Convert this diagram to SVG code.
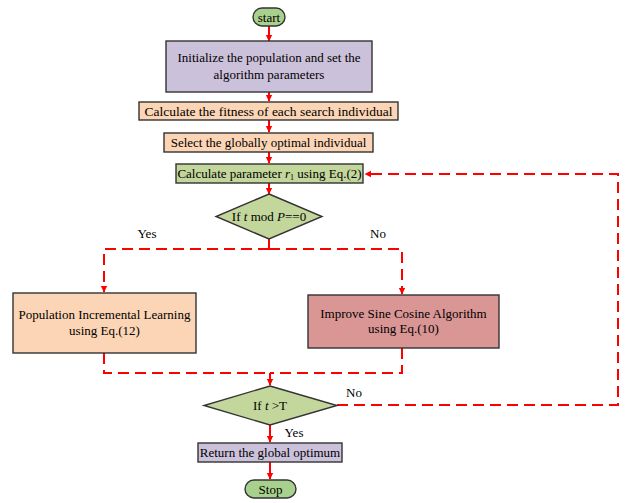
<svg xmlns="http://www.w3.org/2000/svg" width="629" height="503" viewBox="0 0 629 503">
<defs>
<style>
text{font-family:"Liberation Serif","Times New Roman",serif;font-size:13px;fill:#000;text-anchor:middle}
.box{stroke:#333;stroke-width:1.4}
.pur{fill:#ccc1da}.peach{fill:#fbd5b5}.green{fill:#c3d69b}.rose{fill:#d99694}.term{fill:#a9d18e}
.solid{stroke:#ff0000;stroke-width:2;fill:none}
.dash{stroke:#ff0000;stroke-width:2;fill:none;stroke-dasharray:11,6}
</style>
<marker id="ah" markerWidth="8" markerHeight="8" refX="6" refY="4" orient="auto" markerUnits="userSpaceOnUse">
<path d="M0,0.8 L6.5,4 L0,7.2 z" fill="#ff0000"/>
</marker>
</defs>
<rect width="629" height="503" fill="#fff"/>
<g id="connectors">
<line class="solid" x1="269" y1="26" x2="269" y2="41" marker-end="url(#ah)"/>
<line class="solid" x1="269" y1="92" x2="269" y2="101" marker-end="url(#ah)"/>
<line class="solid" x1="269" y1="120" x2="269" y2="132" marker-end="url(#ah)"/>
<line class="solid" x1="269" y1="152" x2="269" y2="163" marker-end="url(#ah)"/>
<line class="solid" x1="269" y1="183" x2="269" y2="194" marker-end="url(#ah)"/>
<line class="solid" x1="269" y1="239" x2="269" y2="249"/>
<path class="dash" d="M269,249 H104 V292" marker-end="url(#ah)"/>
<path class="dash" d="M269,249 H402 V294" marker-end="url(#ah)"/>
<path class="dash" d="M104,353 V373 H270"/>
<path class="dash" d="M402,348 V373 H270"/>
<line class="solid" x1="270" y1="373" x2="270" y2="385" marker-end="url(#ah)"/>
<path class="dash" d="M337,405 H618 V174 H365" marker-end="url(#ah)"/>
<line class="solid" x1="270" y1="425" x2="270" y2="442" marker-end="url(#ah)"/>
<line class="solid" x1="270" y1="462" x2="270" y2="479" marker-end="url(#ah)"/>
</g>
<g id="start"><rect class="box term" x="253" y="8" width="32" height="18" rx="9"/><text x="269" y="21.5">start</text></g>
<g id="init"><rect class="box pur" x="166" y="41" width="206" height="51"/><text x="269" y="62">Initialize the population and set the</text><text x="269" y="79">algorithm parameters</text></g>
<g id="fitness"><rect class="box peach" x="139" y="102" width="259" height="18"/><text x="268.5" y="115.5" style="font-size:13.5px">Calculate the fitness of each search individual</text></g>
<g id="select"><rect class="box peach" x="164" y="133" width="209" height="19"/><text x="268.5" y="147">Select the globally optimal individual</text></g>
<g id="param"><rect class="box green" x="176" y="164" width="187" height="19"/><text x="269.5" y="178">Calculate parameter <tspan font-style="italic">r</tspan><tspan font-size="8" dy="2">1</tspan><tspan dy="-2"> using Eq.(2)</tspan></text></g>
<g id="cond1"><polygon class="box green" points="269,194 322,216.5 269,239 216,216.5"/><text x="269" y="221">If <tspan font-style="italic">t</tspan> mod <tspan font-style="italic">P</tspan>==0</text></g>
<text x="147" y="238">Yes</text>
<text x="378" y="238">No</text>
<g id="pil"><rect class="box peach" x="13" y="293" width="183" height="60"/><text x="104.5" y="319">Population Incremental Learning</text><text x="104.5" y="335">using Eq.(12)</text></g>
<g id="isca"><rect class="box rose" x="308" y="295" width="191" height="53"/><text x="403.5" y="318">Improve Sine Cosine Algorithm</text><text x="403.5" y="333">using Eq.(10)</text></g>
<g id="cond2"><polygon class="box green" points="270,386 337,405.5 270,425 204,405.5"/><text x="270" y="410">If <tspan font-style="italic">t</tspan> &gt;T</text></g>
<text x="354" y="397">No</text>
<text x="294" y="437">Yes</text>
<g id="ret"><rect class="box pur" x="198" y="443" width="144" height="19"/><text x="270" y="457">Return the global optimum</text></g>
<g id="stop"><rect class="box term" x="245" y="480" width="51" height="18" rx="9"/><text x="270.5" y="493.5">Stop</text></g>
</svg>
